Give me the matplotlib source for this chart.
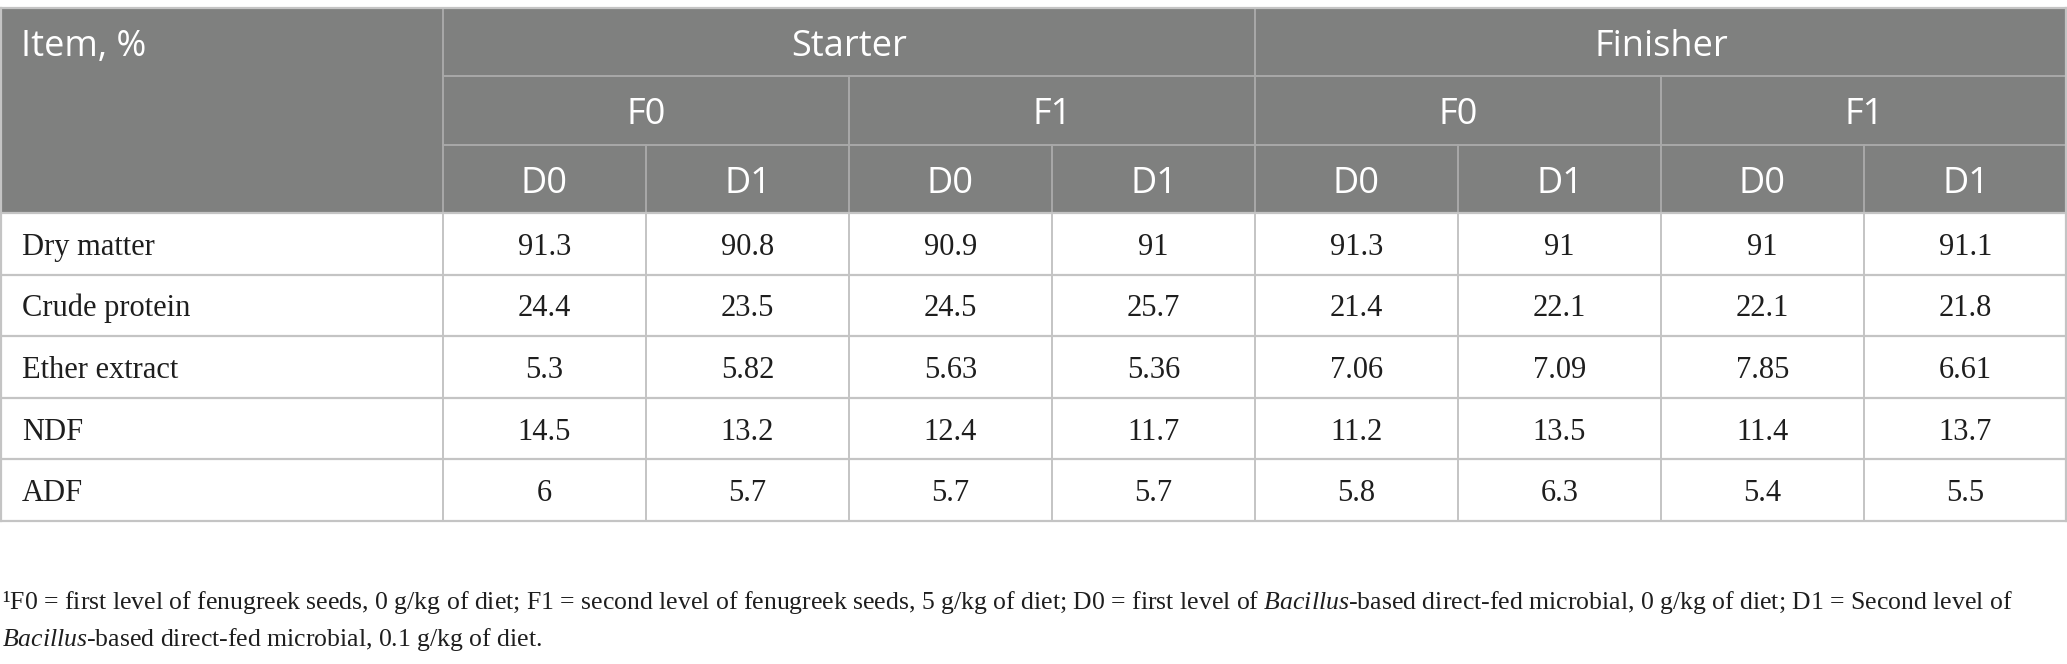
import matplotlib
matplotlib.use("Agg")
import matplotlib.pyplot as plt
from matplotlib.patches import Rectangle

# table content
stages = ["Starter", "Finisher"]
fenugreek = ["F0", "F1"]
dfm = ["D0", "D1"]
items = ["Dry matter", "Crude protein", "Ether extract", "NDF", "ADF"]
dry_matter = ["91.3", "90.8", "90.9", "91", "91.3", "91", "91", "91.1"]
crude_protein = ["24.4", "23.5", "24.5", "25.7", "21.4", "22.1", "22.1", "21.8"]
ether_extract = ["5.3", "5.82", "5.63", "5.36", "7.06", "7.09", "7.85", "6.61"]
ndf = ["14.5", "13.2", "12.4", "11.7", "11.2", "13.5", "11.4", "13.7"]
adf = ["6", "5.7", "5.7", "5.7", "5.8", "6.3", "5.4", "5.5"]
rows = [dry_matter, crude_protein, ether_extract, ndf, adf]
footnote1 = ("\u00b9F0 = first level of fenugreek seeds, 0 g/kg of diet; F1 = second level of "
             "fenugreek seeds, 5 g/kg of diet; D0 = first level of $\\mathit{Bacillus}$-based "
             "direct-fed microbial, 0 g/kg of diet; D1 = Second level of")
footnote2 = "$\\mathit{Bacillus}$-based direct-fed microbial, 0.1 g/kg of diet."

plt.rcParams['mathtext.fontset'] = 'custom'
plt.rcParams['mathtext.rm'] = 'Liberation Serif'
plt.rcParams['mathtext.it'] = 'Liberation Serif:italic'

W, H = 2067, 664
fig = plt.figure(figsize=(W / 100, H / 100), dpi=100)
ax = fig.add_axes([0, 0, 1, 1])
ax.set_xlim(0, W)
ax.set_ylim(H, 0)
ax.axis('off')

hdr_color = '#7f807f'
line_color = '#c4c4c4'
hdr_line = '#a9a9a9'
txt_color = '#1e1e1e'

top = 8
hdr_h = 68.3
body_top = top + 3 * hdr_h
row_h = 61.6
first_w = 443
col_w = (W - first_w) / 8
bottom = body_top + row_h * len(rows)

ax.add_patch(Rectangle((0, top), W, body_top - top, color=hdr_color, lw=0))

def col_x(i):
    return first_w + i * col_w

# header lines
for k in (1, 2):
    ax.plot([first_w, W], [top + k * hdr_h] * 2, color=hdr_line, lw=1.4)
ax.plot([first_w, first_w], [top, body_top], color=hdr_line, lw=1.4)
ax.plot([col_x(4)] * 2, [top, body_top], color=hdr_line, lw=1.4)
for i in (2, 6):
    ax.plot([col_x(i)] * 2, [top + hdr_h, body_top], color=hdr_line, lw=1.4)
for i in (1, 3, 5, 7):
    ax.plot([col_x(i)] * 2, [top + 2 * hdr_h, body_top], color=hdr_line, lw=1.4)
ax.plot([0, W], [top, top], color=line_color, lw=1.6)

# body lines
for r in range(len(rows) + 1):
    ax.plot([0, W], [body_top + r * row_h] * 2, color=line_color, lw=1.6)
for i in range(0, 9):
    ax.plot([col_x(i)] * 2, [body_top, bottom], color=line_color, lw=1.4)
ax.plot([0.8, 0.8], [top, bottom], color=line_color, lw=1.6)
ax.plot([W - 0.8] * 2, [top, bottom], color=line_color, lw=1.6)

# header text
hf = dict(family='Open Sans', fontsize=26, color='white', va='baseline')
ax.text(21, top + hdr_h / 2 + 14, "Item, %", ha='left', **hf)
for s, name in enumerate(stages):
    ax.text((col_x(4 * s) + col_x(4 * s + 4)) / 2, top + hdr_h / 2 + 14, name, ha='center', **hf)
for j in range(4):
    ax.text((col_x(2 * j) + col_x(2 * j + 2)) / 2, top + 1.5 * hdr_h + 14,
            fenugreek[j % 2], ha='center', **hf)
for i in range(8):
    ax.text((col_x(i) + col_x(i + 1)) / 2, top + 2.5 * hdr_h + 14, dfm[i % 2], ha='center', **hf)

# body text
bf = dict(family='Liberation Serif', fontsize=22, color=txt_color, va='baseline')
for r, (name, vals) in enumerate(zip(items, rows)):
    yb = body_top + (r + 0.5) * row_h + 11
    ax.text(22, yb, name, ha='left', **bf)
    for i, v in enumerate(vals):
        ax.text((col_x(i) + col_x(i + 1)) / 2, yb, v, ha='center', **bf)

# footnote, sized to span the same width as the reference
ff = dict(family='Liberation Serif', fontsize=18, color=txt_color, va='baseline', ha='left')
t1 = ax.text(2, 609, footnote1, **ff)
renderer = fig.canvas.get_renderer()
w1 = t1.get_window_extent(renderer).width
size = 18 * 2015 / w1
t1.set_fontsize(size)
ax.text(2, 646, footnote2, **{**ff, 'fontsize': size})

fig.savefig("out.png", dpi=100, facecolor='white')
